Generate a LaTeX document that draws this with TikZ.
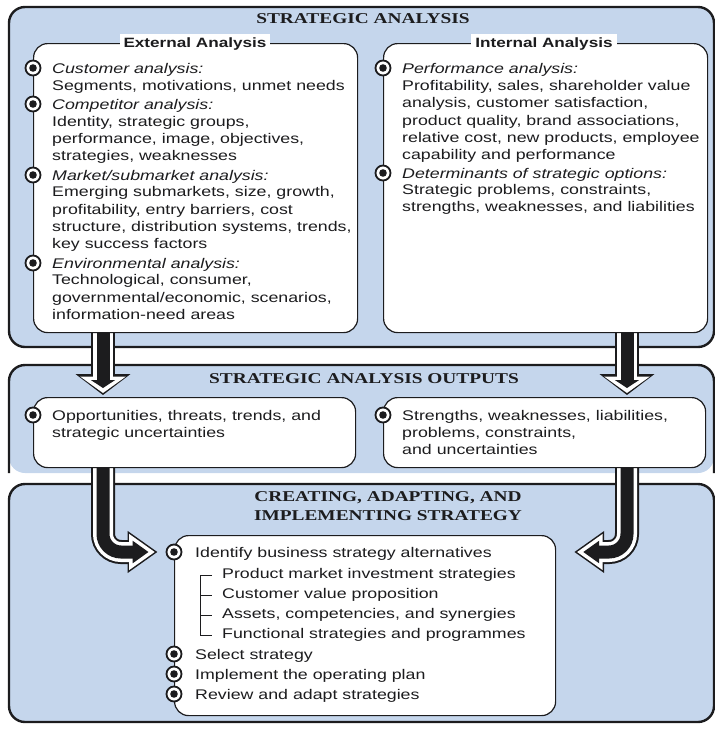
\documentclass[tikz,border=0pt]{standalone}
\usepackage{fontspec}
\setmainfont[FakeStretch=1.27]{Liberation Sans}
\newfontfamily\titlefont[FakeStretch=1.29]{Liberation Serif}
\usetikzlibrary{calc,arrows.meta}

\definecolor{panelblue}{RGB}{197,214,236}
\definecolor{ink}{RGB}{28,28,30}

\pgfdeclarelayer{background}
\pgfdeclarelayer{arrows}
\pgfsetlayers{background,arrows,main}

\tikzstyle{panel}=[fill=panelblue,rounded corners=16pt]
\tikzstyle{panel edge}=[draw=ink,line width=2.4pt,rounded corners=16pt]
\tikzstyle{box}=[draw=ink,line width=1.2pt,fill=white,rounded corners=14pt,inner sep=0pt,anchor=north west]
\tikzstyle{bullet}=[circle,draw=ink,line width=1.8pt,fill=white,minimum size=15pt,inner sep=0pt,
  path picture={\fill[ink] (path picture bounding box.center) circle (3.8pt);}]
\tikzstyle{txt}=[anchor=mid west,inner sep=0pt,yshift=-3pt,text=ink,font=\fontsize{14}{17}\selectfont]
\tikzstyle{heading}=[txt,font=\fontsize{14}{17}\selectfont\itshape]
\tikzstyle{boxtitle}=[fill=white,inner sep=4pt,text=ink,font=\fontsize{13.5}{16}\selectfont\bfseries]
\tikzstyle{paneltitle}=[inner sep=0pt,text=ink,align=center,font=\fontsize{15}{19}\selectfont\titlefont\bfseries]
\tikzstyle{bracket}=[draw=ink,line width=1pt]

\begin{document}
\begin{tikzpicture}[x=1pt,y=-1pt]
    \useasboundingbox (0,0) rectangle (715,729);

    % boxes
    \node[box,minimum width=324pt,minimum height=289pt] (ext) at (33,43) {};
    \node[box,minimum width=324pt,minimum height=289pt] (int) at (383,43) {};
    \node[box,minimum width=322pt,minimum height=70pt] (opp) at (33,397) {};
    \node[box,minimum width=322pt,minimum height=70pt] (unc) at (383,397) {};
    \node[box,minimum width=381pt,minimum height=180pt] (strat) at (174,535) {};

    \node[boxtitle] (extt) at (195,44) {External Analysis};
    \node[boxtitle] (intt) at (544,44) {Internal Analysis};

    \node[paneltitle] (t1) at (363,19) {STRATEGIC ANALYSIS};
    \node[paneltitle] (t2) at (364,379) {STRATEGIC ANALYSIS OUTPUTS};
    \node[paneltitle] (t3) at (388,506) {CREATING, ADAPTING, AND\\IMPLEMENTING STRATEGY};

    % external analysis
    \foreach \y/\t [count=\i] in {68/{Customer analysis:}, 104/{Competitor analysis:},
                                  175/{Market/submarket analysis:}, 263/{Environmental analysis:}} {
        \node[bullet] (eb\i) at (33,\y) {};
        \node[heading] (eh\i) at (52,\y) {\t};
    }
    \foreach \y/\t [count=\i] in {85/{Segments, motivations, unmet needs},
                                  121/{Identity, strategic groups,}, 138/{performance, image, objectives,},
                                  155/{strategies, weaknesses},
                                  191/{Emerging submarkets, size, growth,}, 209/{profitability, entry barriers, cost},
                                  226/{structure, distribution systems, trends,}, 243/{key success factors},
                                  279/{Technological, consumer,}, 297/{governmental/economic, scenarios,},
                                  314/{information-need areas}}
        \node[txt] (el\i) at (52,\y) {\t};

    % internal analysis
    \foreach \y/\t [count=\i] in {68/{Performance analysis:}, 173/{Determinants of strategic options:}} {
        \node[bullet] (ib\i) at (383,\y) {};
        \node[heading] (ih\i) at (402,\y) {\t};
    }
    \foreach \y/\t [count=\i] in {85/{Profitability, sales, shareholder value},
                                  102/{analysis, customer satisfaction,}, 120/{product quality, brand associations,},
                                  137/{relative cost, new products, employee}, 154/{capability and performance},
                                  189/{Strategic problems, constraints,}, 206/{strengths, weaknesses, and liabilities}}
        \node[txt] (il\i) at (402,\y) {\t};

    % outputs
    \node[bullet] (ob1) at (33,415) {};
    \node[bullet] (ob2) at (383,415) {};
    \foreach \x/\y/\t [count=\i] in {52/415/{Opportunities, threats, trends, and}, 52/432/{strategic uncertainties},
                                     402/415/{Strengths, weaknesses, liabilities,}, 402/432/{problems, constraints,},
                                     402/449/{and uncertainties}}
        \node[txt] (ol\i) at (\x,\y) {\t};

    % strategy
    \foreach \y/\t [count=\i] in {552/{Identify business strategy alternatives}, 654/{Select strategy},
                                  674/{Implement the operating plan}, 694/{Review and adapt strategies}} {
        \node[bullet] (sb\i) at (174,\y) {};
        \node[txt] (sl\i) at (195,\y) {\t};
    }
    \foreach \y/\t [count=\i] in {573/{Product market investment strategies}, 593/{Customer value proposition},
                                  613/{Assets, competencies, and synergies}, 633/{Functional strategies and programmes}}
        \node[txt] (ss\i) at (222,\y) {\t};
    \draw[bracket] ($(ss1.west)+(-10,0)$) -- ($(ss1.west)+(-22,0)$) |- ($(ss4.west)+(-10,0)$);
    \foreach \i in {2,3}
        \draw[bracket] ($(ss\i.west)+(-22,0)$) -- ($(ss\i.west)+(-10,0)$);

    \coordinate (lt) at ($(sb1.west)+(-8,0)$);
    \coordinate (rt) at ($(sb1 -| strat.east)+(18,0)$);

    \begin{pgfonlayer}{arrows}
        \foreach \lw/\col/\sh/\len/\wid in {24/ink/0/21/54, 20/white/2/16.5/45, 13/ink/7/8/24} {
            \draw[line width=\lw pt,draw=\col,shorten >=\sh pt,-{Triangle[length=\len pt,width=\wid pt]}]
                ($(ext.south west)+(70,-5)$) -- ($(opp.north west)+(70,-2)$);
            \draw[line width=\lw pt,draw=\col,shorten >=\sh pt,-{Triangle[length=\len pt,width=\wid pt]}]
                ($(int.south west)+(244,-5)$) -- ($(unc.north west)+(244,-2)$);
        }
        \foreach \lw/\col/\sh/\len/\wid in {24/ink/0/30/40, 20/white/2.7/25.8/34.4, 13/ink/9/16/21.5} {
            \draw[line width=\lw pt,draw=\col,rounded corners=18pt,shorten >=\sh pt,-{Triangle[length=\len pt,width=\wid pt]}]
                ($(opp.south west)+(70,-5)$) |- (lt);
            \draw[line width=\lw pt,draw=\col,rounded corners=18pt,shorten >=\sh pt,-{Triangle[length=\len pt,width=\wid pt]}]
                ($(unc.south west)+(244,-5)$) |- (rt);
        }
    \end{pgfonlayer}

    \begin{pgfonlayer}{background}
        \path[panel] (9,7) rectangle (714,347);
        \draw[panel edge] (9,7) rectangle (714,347);
        \path[panel] (9,365) rectangle (714,473);
        \draw[panel edge] (9,473) |- (714,365) -- (714,473);
        \path[panel] (9,484) rectangle (714,722);
        \draw[panel edge] (9,484) rectangle (714,722);
    \end{pgfonlayer}
\end{tikzpicture}
\end{document}
